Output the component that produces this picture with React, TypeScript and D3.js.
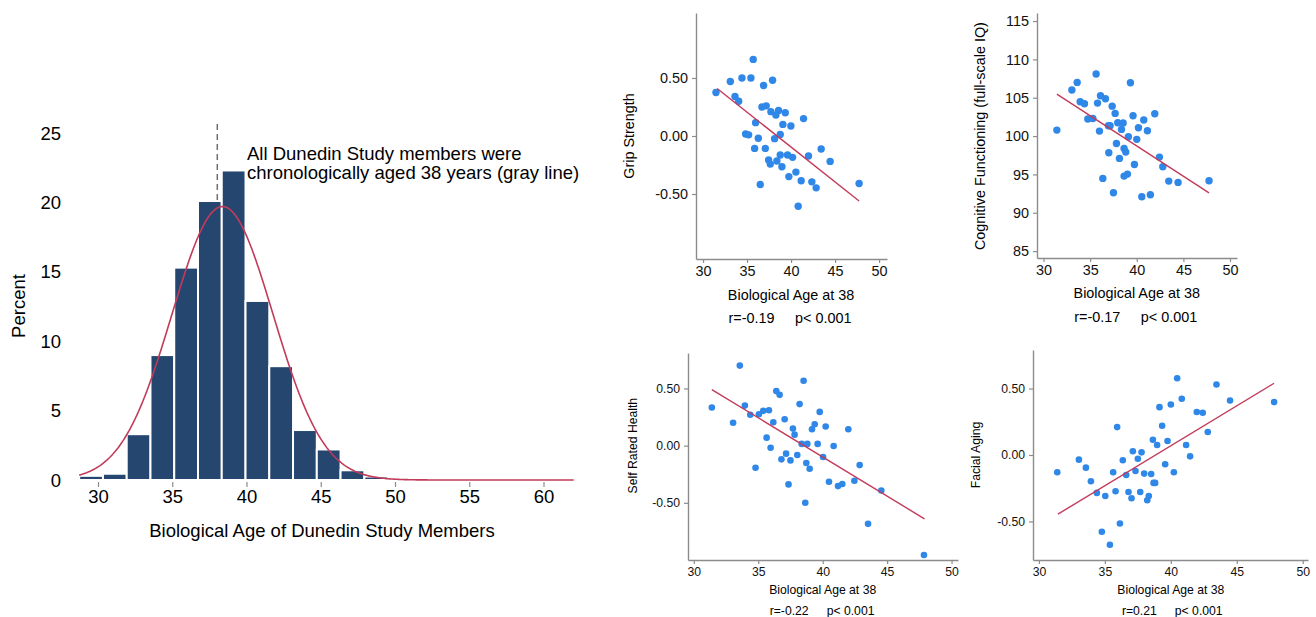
import React, { useEffect, useRef } from 'react'
import * as d3 from 'd3'

// ---- histogram (left) ----
const binLow = [28.7, 30.3, 31.9, 33.5, 35.1, 36.7, 38.3, 39.9, 41.5, 43.1, 44.7, 46.3, 47.9]
const binWidth = 1.6
const binPct = [0.3, 0.45, 3.3, 9.0, 15.3, 20.1, 22.3, 12.9, 8.2, 3.6, 2.2, 0.7, 0.25]
const histXTicks = [30, 35, 40, 45, 50, 55, 60]
const histYTicks = [0, 5, 10, 15, 20, 25]
const normMean = 38.35
const normSd = 3.4
const normPeak = 19.7
const chronoAge = 38
const noteLines = ['All Dunedin Study members were', 'chronologically aged 38 years (gray line)']

// ---- scatter panels (right) ----
const gripPts = [
  [31.47, 0.375], [33.1, 0.47], [34.42, 0.5], [35.44, 0.5], [35.7, 0.66], [36.88, 0.435], [37.9, 0.48],
  [33.63, 0.34], [34.05, 0.3], [36.69, 0.25], [37.18, 0.26], [37.71, 0.21], [38.28, 0.18], [38.58, 0.22],
  [39.34, 0.2], [39.07, 0.1], [39.98, 0.086], [41.42, 0.15], [35.97, 0.115], [34.84, 0.017], [35.18, 0.01],
  [36.28, -0.02], [38.77, 0.014], [38.13, -0.023], [35.86, -0.107], [37.07, -0.107], [38.77, -0.164],
  [39.6, -0.164], [40.17, -0.184], [37.45, -0.207], [37.64, -0.242], [38.39, -0.216], [38.96, -0.265],
  [41.98, -0.173], [43.42, -0.112], [44.44, -0.219], [36.5, -0.418], [39.75, -0.35], [40.55, -0.311],
  [41.15, -0.386], [42.36, -0.395], [42.85, -0.447], [40.81, -0.605], [47.73, -0.409]
]
const gripFit = [[31.6, 0.41], [47.73, -0.56]]

const iqPts = [
  [31.43, 100.78], [33.04, 106.0], [33.61, 107.0], [33.93, 104.48], [34.39, 104.22], [34.75, 102.22],
  [35.29, 102.3], [35.64, 108.09], [35.79, 104.3], [36.11, 105.26], [36.64, 104.87], [36.0, 100.65],
  [36.96, 101.35], [37.14, 101.35], [37.36, 103.9], [37.68, 102.96], [37.96, 101.74], [38.54, 101.7],
  [38.36, 100.87], [37.82, 99.04], [37.0, 97.83], [38.14, 97.09], [38.64, 98.39], [38.82, 97.91],
  [39.1, 99.91], [39.32, 106.96], [39.6, 102.65], [39.75, 96.3], [40.0, 99.57], [40.18, 101.09],
  [40.75, 102.09], [41.14, 100.7], [41.93, 102.91], [42.43, 97.26], [42.79, 96.0], [43.43, 94.13],
  [44.43, 93.96], [47.75, 94.17], [36.36, 94.48], [38.64, 94.78], [39.0, 95.04], [37.5, 92.61],
  [40.54, 92.09], [41.46, 92.35]
]
const iqFit = [[31.43, 105.48], [47.75, 92.6]]

const healthPts = [
  [31.4, 0.333], [33.05, 0.2], [33.57, 0.7], [33.96, 0.35], [34.38, 0.27], [34.79, -0.193], [35.05, 0.275],
  [35.39, 0.304], [35.83, 0.31], [36.17, 0.205], [35.65, 0.07], [35.96, -0.018], [36.4, 0.477],
  [36.66, 0.444], [37.05, 0.231], [36.8, -0.12], [37.16, -0.07], [37.5, -0.129], [37.35, -0.339],
  [37.69, 0.149], [37.82, 0.096], [38.03, -0.082], [38.21, 0.363], [38.37, 0.015], [38.52, 0.567],
  [38.73, -0.152], [38.81, 0.015], [38.65, -0.5], [38.99, -0.202], [39.17, 0.143], [39.38, 0.187],
  [39.61, 0.015], [39.77, 0.295], [40.03, -0.1], [40.23, 0.167], [40.49, -0.316], [40.85, -0.003],
  [41.19, -0.354], [41.52, -0.336], [41.99, 0.143], [42.46, -0.307], [42.87, -0.17], [43.52, -0.684],
  [44.55, -0.392], [47.86, -0.956]
]
const healthFit = [[31.4, 0.49], [47.9, -0.64]]

const facePts = [
  [31.39, -0.13], [33.03, -0.035], [33.56, -0.095], [33.94, -0.198], [34.39, -0.285], [35.03, -0.308],
  [34.77, -0.578], [35.38, -0.675], [35.63, -0.13], [35.93, 0.21], [35.81, -0.273], [36.14, -0.515],
  [36.36, -0.04], [36.62, -0.15], [36.79, -0.278], [37.12, 0.028], [37.02, -0.325], [37.32, -0.12],
  [37.5, -0.028], [37.78, 0.02], [37.68, -0.278], [37.98, -0.14], [38.21, -0.34], [38.33, -0.308],
  [38.51, -0.143], [38.64, 0.115], [38.69, -0.21], [38.81, -0.21], [38.96, 0.075], [39.14, 0.36],
  [39.34, 0.22], [39.57, -0.07], [39.75, 0.105], [40.0, 0.38], [40.23, -0.13], [40.48, 0.578],
  [40.83, 0.423], [41.16, 0.075], [41.46, -0.01], [41.97, 0.323], [42.42, 0.318], [42.8, 0.173],
  [43.46, 0.53], [44.49, 0.41], [47.83, 0.398]
]
const faceFit = [[31.44, -0.445], [47.83, 0.54]]

const ageTicks = [30, 35, 40, 45, 50]
const zTicks = [-0.5, 0, 0.5]
const iqTicks = [85, 90, 95, 100, 105, 110, 115]

const FONT = '"Liberation Sans", Arial, Helvetica, sans-serif'
const NAVY = '#24466f'
const RED = '#c23b5b'
const DOT = '#2f87e8'
const AXIS = '#8c8c8c'

const panels = [
  { pts: gripPts, fit: gripFit, yTicks: zTicks, fmt: (d) => d.toFixed(2), ylab: 'Grip Strength',
    xr: [696, 887], xd: [29.2, 50.9], yr: [259, 13], yd: [-1.06, 1.06], fs: 14.4, r: 3.7,
    ylx: 634, stat: ['r=-0.19', 'p< 0.001'], xt: 300, rt: 323 },
  { pts: iqPts, fit: iqFit, yTicks: iqTicks, fmt: (d) => String(d), ylab: 'Cognitive Functioning (full-scale IQ)',
    xr: [1037, 1237], xd: [29.3, 50.75], yr: [258, 13], yd: [84.1, 116.05], fs: 14.4, r: 3.7,
    ylx: 985, stat: ['r=-0.17', 'p< 0.001'], xt: 298, rt: 322 },
  { pts: healthPts, fit: healthFit, yTicks: zTicks, fmt: (d) => d.toFixed(2), ylab: 'Self Rated Health',
    xr: [688, 958], xd: [29.55, 50.5], yr: [560, 353], yd: [-1.0, 0.81], fs: 12.2, r: 3.3,
    ylx: 637, stat: ['r=-0.22', 'p< 0.001'], xt: 594, rt: 615 },
  { pts: facePts, fit: faceFit, yTicks: zTicks, fmt: (d) => d.toFixed(2), ylab: 'Facial Aging',
    xr: [1033, 1308], xd: [29.55, 50.4], yr: [560, 350], yd: [-0.79, 0.79], fs: 12.2, r: 3.3,
    ylx: 980, stat: ['r=0.21', 'p< 0.001'], xt: 594, rt: 615 }
]

function drawHistogram(svg) {
  const x = d3.scaleLinear().domain([30, 60]).range([98.5, 544])
  const y = d3.scaleLinear().domain([0, 25]).range([480, 133])
  const g = svg.append('g').attr('font-family', FONT)

  // gray reference line at chronological age
  g.append('line')
    .attr('x1', x(chronoAge)).attr('x2', x(chronoAge))
    .attr('y1', y(0)).attr('y2', y(25.8))
    .attr('stroke', '#6e6e6e').attr('stroke-width', 1.5)
    .attr('stroke-dasharray', '6,4')

  g.append('g').selectAll('rect')
    .data(binLow).enter().append('rect')
    .attr('x', (d) => x(d))
    .attr('width', (d) => x(d + binWidth) - x(d))
    .attr('y', (d, i) => y(binPct[i]))
    .attr('height', (d, i) => y(0) - y(binPct[i]))
    .attr('fill', NAVY)
    .attr('stroke', '#fff').attr('stroke-width', 2)

  const xs = d3.range(binLow[0], 62.01, 0.1)
  const curve = d3.line()
    .x((d) => x(d))
    .y((d) => y(normPeak * Math.exp(-((d - normMean) ** 2) / (2 * normSd * normSd))))
  g.append('path').attr('d', curve(xs))
    .attr('fill', 'none').attr('stroke', RED).attr('stroke-width', 1.6)

  // x ticks + labels
  const xt = g.append('g')
  xt.selectAll('line').data(histXTicks).enter().append('line')
    .attr('x1', (d) => x(d)).attr('x2', (d) => x(d))
    .attr('y1', y(0) + 2).attr('y2', y(0) + 7)
    .attr('stroke', AXIS).attr('stroke-width', 1.2)
  xt.selectAll('text').data(histXTicks).enter().append('text')
    .attr('x', (d) => x(d)).attr('y', 503)
    .attr('text-anchor', 'middle').attr('font-size', 18.5)
    .text((d) => d)

  g.append('g').selectAll('text').data(histYTicks).enter().append('text')
    .attr('x', 61).attr('y', (d) => y(d) + 6.5)
    .attr('text-anchor', 'end').attr('font-size', 18.5)
    .text((d) => d)

  g.append('text')
    .attr('x', 322).attr('y', 537)
    .attr('text-anchor', 'middle').attr('font-size', 18.5)
    .text('Biological Age of Dunedin Study Members')

  g.append('text')
    .attr('transform', 'translate(25,306) rotate(-90)')
    .attr('text-anchor', 'middle').attr('font-size', 18.5)
    .text('Percent')

  g.append('g').selectAll('text').data(noteLines).enter().append('text')
    .attr('x', x(40)).attr('y', (d, i) => 160 + i * 19)
    .attr('font-size', 18.5)
    .text((d) => d)
}

function drawScatter(svg, p) {
  const x = d3.scaleLinear().domain(p.xd).range(p.xr)
  const y = d3.scaleLinear().domain(p.yd).range(p.yr)
  const g = svg.append('g').attr('font-family', FONT)

  const xAxis = g.append('g')
    .attr('transform', `translate(0,${p.yr[0]})`)
    .call(d3.axisBottom(x).tickValues(ageTicks).tickSize(4).tickSizeOuter(0).tickPadding(3))
  const yAxis = g.append('g')
    .attr('transform', `translate(${p.xr[0]},0)`)
    .call(d3.axisLeft(y).tickValues(p.yTicks).tickFormat(p.fmt).tickSize(4).tickSizeOuter(0).tickPadding(4))
  for (const a of [xAxis, yAxis]) {
    a.select('.domain').attr('stroke', AXIS).attr('stroke-width', 1.4)
    a.selectAll('.tick line').attr('stroke', AXIS).attr('stroke-width', 1.2)
    a.selectAll('.tick text').attr('font-size', p.fs).attr('fill', '#111').attr('font-family', FONT)
  }

  g.append('g').selectAll('circle')
    .data(p.pts).enter().append('circle')
    .attr('cx', (d) => x(d[0])).attr('cy', (d) => y(d[1]))
    .attr('r', p.r).attr('fill', DOT)

  g.append('path')
    .attr('d', d3.line().x((d) => x(d[0])).y((d) => y(d[1]))(p.fit))
    .attr('stroke', RED).attr('stroke-width', 1.4).attr('fill', 'none')

  const cx = (x(30) + x(50)) / 2
  g.append('text')
    .attr('x', cx).attr('y', p.xt)
    .attr('text-anchor', 'middle').attr('font-size', p.fs)
    .text('Biological Age at 38')
  g.append('text')
    .attr('x', cx - p.fs * 1.15).attr('y', p.rt)
    .attr('text-anchor', 'end').attr('font-size', p.fs)
    .text(p.stat[0])
  g.append('text')
    .attr('x', cx + 4).attr('y', p.rt)
    .attr('font-size', p.fs)
    .text(p.stat[1])

  const [lo, hi] = d3.extent(p.yTicks)
  g.append('text')
    .attr('transform', `translate(${p.ylx},${(y(lo) + y(hi)) / 2}) rotate(-90)`)
    .attr('text-anchor', 'middle').attr('font-size', p.fs)
    .text(p.ylab)
}

export default function App() {
  const ref = useRef(null)

  useEffect(() => {
    const svg = d3.select(ref.current)
    svg.selectAll('*').remove()
    drawHistogram(svg)
    panels.forEach((p) => drawScatter(svg, p))
  }, [])

  return (
    <svg ref={ref} width={1316} height={617}
      style={{ position: 'absolute', left: 0, top: 0, background: '#fff' }} />
  )
}
